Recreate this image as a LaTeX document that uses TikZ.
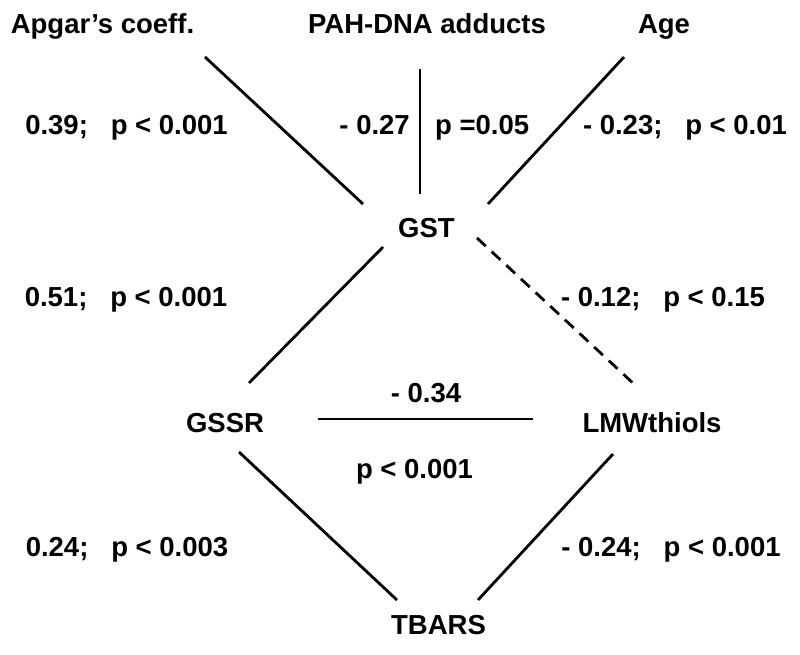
\documentclass[tikz,border=0pt]{standalone}
\usepackage{fontspec}
\setmainfont{Liberation Sans}
\begin{document}
\begin{tikzpicture}[x=1pt, y=-1pt,
    txt/.style={font=\bfseries\fontsize{27.5}{33}\selectfont, inner sep=0pt, anchor=base},
    link/.style={line width=2.8pt},
    flat/.style={line width=2pt},
    weak/.style={line width=2.8pt, dash pattern=on 12pt off 8pt}]
    \useasboundingbox (0,0) rectangle (800,655);

    % Bien dau vao o hang tren
    \node[txt] (apgar) at (102.5,34) {Apgar’s coeff.};
    \node[txt] (pah) at (427,34) {PAH-DNA adducts};
    \node[txt] (age) at (664,34) {Age};

    % Cac nut chinh
    \node[txt] (gst) at (426.5,237) {GST};
    \node[txt] (gssr) at (225,432) {GSSR};
    \node[txt] (lmw) at (652,432) {LMWthiols};
    \node[txt] (tbars) at (438.5,634) {TBARS};

    % He so tuong quan
    \node[txt] (r1) at (126.5,135) {0.39;\hspace{0.83em}p < 0.001};
    \node[txt, anchor=base east] (r2) at (410,135) {- 0.27};
    \node[txt, anchor=base west] (p2) at (435,135) {p =0.05};
    \node[txt] (r3) at (685,135) {- 0.23;\hspace{0.83em}p < 0.01};
    \node[txt] (r4) at (126,306) {0.51;\hspace{0.83em}p < 0.001};
    \node[txt] (r5) at (663,306) {- 0.12;\hspace{0.83em}p < 0.15};
    \node[txt] (r6) at (426,402) {- 0.34};
    \node[txt] (p6) at (414.5,478) {p < 0.001};
    \node[txt] (r7) at (127,556) {0.24;\hspace{0.83em}p < 0.003};
    \node[txt] (r8) at (671,556) {- 0.24;\hspace{0.83em}p < 0.001};

    % Diem dau cua cac duong noi
    \coordinate (apgar-s) at (205,57);
    \coordinate (pah-s) at (420,69);
    \coordinate (age-s) at (624,57);
    \coordinate (gst-nw) at (363,204);
    \coordinate (gst-n) at (420,194);
    \coordinate (gst-ne) at (488,204);
    \coordinate (gst-sw) at (383,247);
    \coordinate (gst-se) at (477,238);
    \coordinate (gssr-ne) at (249,383);
    \coordinate (gssr-e) at (318,419);
    \coordinate (gssr-s) at (239,452);
    \coordinate (lmw-nw) at (635,385);
    \coordinate (lmw-w) at (533,419);
    \coordinate (lmw-s) at (613,454);
    \coordinate (tbars-nw) at (397,600);
    \coordinate (tbars-ne) at (478,600);

    % Duong noi
    \draw[link] (apgar-s) -- (gst-nw);
    \draw[flat] (pah-s) -- (gst-n);
    \draw[link] (age-s) -- (gst-ne);
    \draw[link] (gst-sw) -- (gssr-ne);
    \draw[weak] (gst-se) -- (lmw-nw);
    \draw[flat] (gssr-e) -- (lmw-w);
    \draw[link] (gssr-s) -- (tbars-nw);
    \draw[link] (lmw-s) -- (tbars-ne);
\end{tikzpicture}
\end{document}
